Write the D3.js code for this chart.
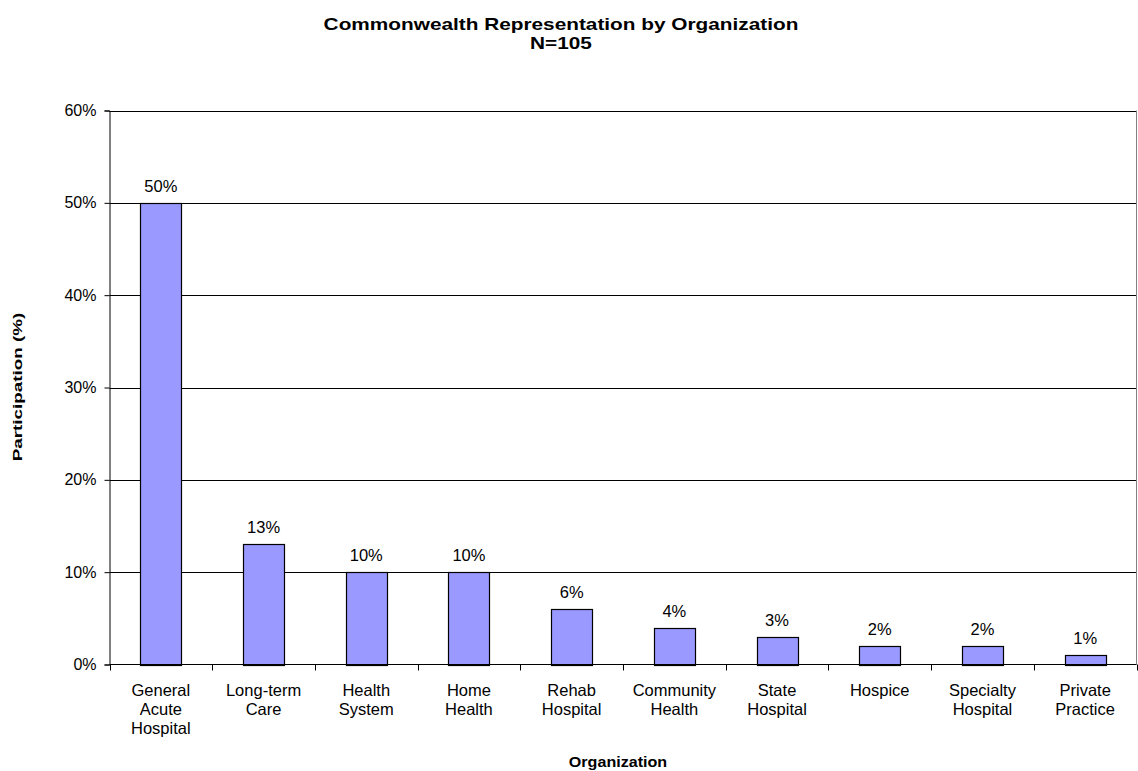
<!DOCTYPE html>
<html>
<head>
<meta charset="utf-8">
<script src="https://cdn.jsdelivr.net/npm/d3@7"></script>
<style>
  html, body { margin: 0; padding: 0; background: #fff; }
  svg { display: block; font-family: "Liberation Sans", Arial, sans-serif; }
</style>
</head>
<body>
<svg id="chart" width="1138" height="771"></svg>
<script>
// Category labels (multi-line) and participation shares
const categories = [
  ["General", "Acute", "Hospital"],
  ["Long-term", "Care"],
  ["Health", "System"],
  ["Home", "Health"],
  ["Rehab", "Hospital"],
  ["Community", "Health"],
  ["State", "Hospital"],
  ["Hospice"],
  ["Specialty", "Hospital"],
  ["Private", "Practice"]
];
const values = [50, 13, 10, 10, 6, 4, 3, 2, 2, 1];
const yTicks = [0, 10, 20, 30, 40, 50, 60];

const svg = d3.select("#chart");
const margin = { left: 109.5, right: 1136.5, top: 110.5, bottom: 664.5 };

const keys = categories.map((c, i) => i);
const x = d3.scaleBand()
  .domain(keys)
  .range([margin.left, margin.right])
  .paddingInner(0.6)
  .paddingOuter(0.3);

const y = d3.scaleLinear().domain([0, 60]).range([margin.bottom, margin.top]);

// Horizontal gridlines
svg.append("g")
  .selectAll("line")
  .data(yTicks.filter(t => t > 0))
  .join("line")
  .attr("x1", margin.left).attr("x2", margin.right)
  .attr("y1", d => Math.round(y(d)) + 0.5).attr("y2", d => Math.round(y(d)) + 0.5)
  .attr("stroke", "#000").attr("stroke-width", 1);

// Right edge of plot area
svg.append("line")
  .attr("x1", margin.right).attr("x2", margin.right)
  .attr("y1", margin.top).attr("y2", margin.bottom)
  .attr("stroke", "#808080");

// Bars
svg.append("g")
  .selectAll("rect")
  .data(values)
  .join("rect")
  .attr("x", (d, i) => Math.round(x(i)) + 0.5)
  .attr("y", d => Math.round(y(d)) + 0.5)
  .attr("width", Math.round(x.bandwidth()))
  .attr("height", d => Math.round(y(0)) - Math.round(y(d)))
  .attr("fill", "#9999FF")
  .attr("stroke", "#000")
  .attr("stroke-width", 1.2);

// Value labels
svg.append("g")
  .selectAll("text")
  .data(values)
  .join("text")
  .attr("x", (d, i) => x(i) + x.bandwidth() / 2)
  .attr("y", d => y(d) - 11)
  .attr("text-anchor", "middle")
  .attr("font-size", "16.5px")
  .attr("fill", "#000")
  .text(d => d + "%");

// Y axis
const yAxis = d3.axisLeft(y)
  .tickValues(yTicks)
  .tickFormat(d => d + "%")
  .tickSize(5)
  .tickPadding(8);
const gy = svg.append("g")
  .attr("transform", `translate(${margin.left},0)`)
  .call(yAxis);
gy.select(".domain").attr("stroke", "#000");
gy.selectAll(".tick line").attr("stroke", "#000");
gy.selectAll(".tick text").attr("font-size", "16px").attr("fill", "#000")
  .attr("font-family", "Liberation Sans, Arial, sans-serif");

// X axis baseline with tick marks between categories
const gx = svg.append("g");
gx.append("line")
  .attr("x1", margin.left).attr("x2", margin.right)
  .attr("y1", margin.bottom).attr("y2", margin.bottom)
  .attr("stroke", "#000");
const step = x.step();
const boundaries = d3.range(categories.length + 1).map(i => margin.left + i * step);
gx.selectAll("line.tick")
  .data(boundaries)
  .join("line")
  .attr("class", "tick")
  .attr("x1", d => Math.round(d) + 0.5).attr("x2", d => Math.round(d) + 0.5)
  .attr("y1", margin.bottom).attr("y2", margin.bottom + 6)
  .attr("stroke", "#000");

// Category labels
const catText = svg.append("g")
  .selectAll("text")
  .data(categories)
  .join("text")
  .attr("x", (d, i) => x(i) + x.bandwidth() / 2)
  .attr("y", 696)
  .attr("text-anchor", "middle")
  .attr("font-size", "16.5px")
  .attr("fill", "#000");
catText.selectAll("tspan")
  .data(d => d)
  .join("tspan")
  .attr("x", function () { return d3.select(this.parentNode).attr("x"); })
  .attr("dy", (d, i) => i === 0 ? 0 : 19)
  .text(d => d);

// Titles (set slightly wide)
svg.append("text")
  .attr("transform", "translate(561,30) scale(1.3,1)")
  .attr("text-anchor", "middle")
  .attr("font-size", "16px").attr("font-weight", "bold")
  .text("Commonwealth Representation by Organization");
svg.append("text")
  .attr("transform", "translate(561,49) scale(1.3,1)")
  .attr("text-anchor", "middle")
  .attr("font-size", "16px").attr("font-weight", "bold")
  .text("N=105");

svg.append("text")
  .attr("transform", "translate(618,767) scale(1.15,1)")
  .attr("text-anchor", "middle")
  .attr("font-size", "14px").attr("font-weight", "bold")
  .text("Organization");

svg.append("text")
  .attr("transform", "translate(22,387) rotate(-90) scale(1.45,1)")
  .attr("text-anchor", "middle")
  .attr("font-size", "13px").attr("font-weight", "bold")
  .text("Participation (%)");
</script>
</body>
</html>
